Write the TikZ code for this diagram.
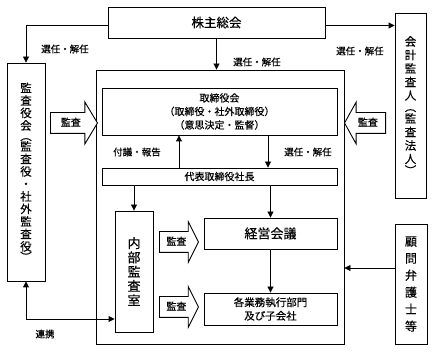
\documentclass[tikz,border=0pt]{standalone}
\usepackage{fontspec}
\setmainfont{Noto Sans CJK JP}[FakeBold=0.4]
\usetikzlibrary{positioning,arrows.meta,shapes.arrows}
\tikzset{orgbox/.style={rectangle, draw=black, line width=0.9pt, inner sep=1pt, align=center}}
\tikzset{auditarrow/.style={single arrow, draw=black, line width=0.9pt, fill=white,
  inner xsep=2pt, inner ysep=5pt, text height=8pt, text depth=2pt,
  single arrow head extend=10.5pt, font=\fontsize{10}{12}\selectfont, anchor=tail}}
\tikzset{lbl/.style={inner sep=0pt, font=\fontsize{9.5}{11}\selectfont}}
\tikzset{conn/.style={-{Triangle[length=6pt,width=6pt]}, line width=0.9pt}}
\tikzset{bothconn/.style={{Triangle[length=6pt,width=6pt]}-{Triangle[length=6pt,width=6pt]}, line width=0.9pt}}

\begin{document}
\begin{tikzpicture}[x=1pt,y=-1pt]
  \useasboundingbox (0,0) rectangle (434,352);
  % top and outer boxes
  \node[orgbox, minimum width=217pt, minimum height=31pt, font=\fontsize{12.5}{14}\selectfont] (share) at (216.5,22.5) {株主総会};
  \node[orgbox, minimum width=38pt, minimum height=218pt, font=\fontsize{11.5}{12.5}\selectfont] (kansa) at (26,172)
    {監\\査\\役\\会\\[-2pt]︵\\[-2pt]監\\査\\役\\・\\社\\外\\監\\査\\役\\[-2pt]︶};
  \node[orgbox, minimum width=31pt, minimum height=185pt, font=\fontsize{11.5}{13.5}\selectfont] (kaikei) at (410.5,105.5)
    {会\\計\\監\\査\\人\\[-2pt]︵\\[-2pt]監\\査\\法\\人\\[-2pt]︶};
  \node[orgbox, minimum width=32pt, minimum height=120pt, font=\fontsize{12}{17}\selectfont] (komon) at (411,284)
    {顧\\問\\弁\\護\\士\\等};
  \node[orgbox, minimum width=248pt, minimum height=274pt] (main) at (220,207) {};
  % inside the company
  \node[orgbox, minimum width=235pt, minimum height=47pt, font=\fontsize{10}{13.5}\selectfont] (board) at (219.5,111.5)
    {取締役会\\（取締役・社外取締役）\\（意思決定・監督）};
  \node[orgbox, minimum width=235pt, minimum height=17pt, font=\fontsize{10}{12}\selectfont] (rep) at (219.5,176.5) {代表取締役社長};
  \node[orgbox, minimum width=38pt, minimum height=121pt, font=\fontsize{13}{14.3}\selectfont] (naibu) at (134,271.5)
    {内\\部\\監\\査\\室};
  \node[orgbox, minimum width=133pt, minimum height=31pt, font=\fontsize{13}{15}\selectfont] (keiei) at (270.5,233.5) {経営会議};
  \node[orgbox, minimum width=133pt, minimum height=32pt, font=\fontsize{10.5}{13.5}\selectfont] (gyomu) at (270.5,309)
    {各業務執行部門\\及び子会社};
  % audit arrows
  \node[auditarrow, minimum height=47pt, single arrow tip angle=118] (audL) at (50,123) {監査};
  \node[auditarrow, minimum height=41pt, single arrow tip angle=122, shape border rotate=180] (audR) at (386,123) {監査};
  \node[auditarrow, minimum height=39pt, single arrow head extend=10pt, single arrow tip angle=127] (audK) at (159,242) {監査};
  \node[auditarrow, minimum height=39pt, single arrow head extend=10pt, single arrow tip angle=127] (audG) at (159,307) {監査};
  % connectors
  \draw[conn] ([yshift=-3pt]share.west) -| (kansa.north);
  \draw[conn] ([yshift=-3pt]share.east) -- ([yshift=-3pt]share.east -| kaikei.west);
  \draw[conn] (share.south) -- (share.south |- main.north);
  \draw[conn] ([xshift=-40.5pt]rep.north) -- ([xshift=-40.5pt]board.south);
  \draw[conn] ([xshift=48.5pt]board.south) -- ([xshift=48.5pt]rep.north);
  \draw[conn] (rep.south -| naibu.north) -- (naibu.north);
  \draw[conn] (rep.south -| keiei.north) -- (keiei.north);
  \draw[conn] (keiei.south) -- (gyomu.north);
  \path ([yshift=16pt]komon.west) coordinate (kin);
  \draw[conn] (kin) -- (kin -| main.east);
  \path ([yshift=-47.5pt]naibu.west) coordinate (rk);
  \draw[bothconn] (kansa.south) |- (rk);
  % labels
  \node[lbl] (selA) at (65,49) {選任・解任};
  \node[lbl] (selB) at (257,62) {選任・解任};
  \node[lbl] (selC) at (360,51) {選任・解任};
  \node[lbl] (fugi) at (137,152) {付議・報告};
  \node[lbl] (selD) at (308,152) {選任・解任};
  \node[lbl] (renkei) at (45,334) {連携};
\end{tikzpicture}
\end{document}
